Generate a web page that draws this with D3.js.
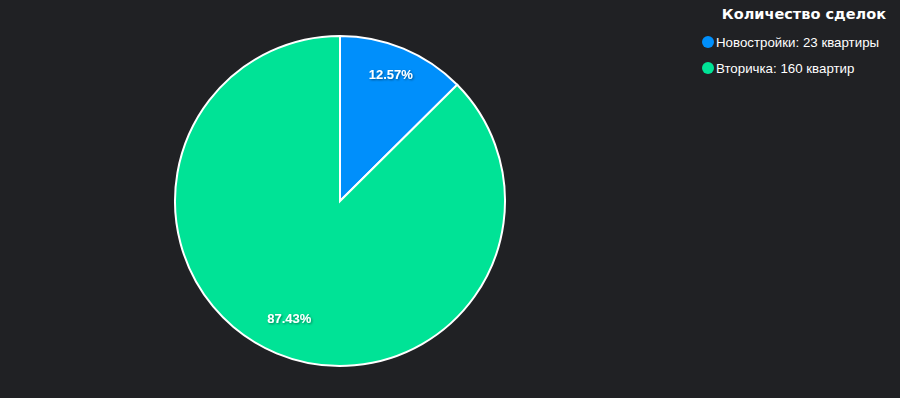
<!DOCTYPE html>
<html><head><meta charset="utf-8">
<script src="https://cdn.jsdelivr.net/npm/d3@7"></script>
<style>
html,body{margin:0;padding:0;background:#202124;}
svg{display:block;font-family:"Liberation Sans",Arial,Helvetica,sans-serif;}
</style></head><body>
<svg id="chart" width="900" height="398"></svg>
<script>
const categories = ["Новостройки", "Вторичка"];
const values = [23, 160];
const units = ["квартиры", "квартир"];
const colors = ["#008FFB", "#00E396"];
const legendTitle = "Количество сделок";

const svg = d3.select("#chart");
svg.append("rect").attr("width",900).attr("height",398).attr("fill","#202124");
const defs = svg.append("defs");
const f = defs.append("filter").attr("id","sh").attr("x","-20%").attr("y","-50%").attr("width","140%").attr("height","200%");
f.append("feDropShadow").attr("dx",1).attr("dy",1).attr("stdDeviation",1).attr("flood-color","#000").attr("flood-opacity",0.45);

const cx = 340, cy = 201, r = 165;
const pie = d3.pie().sort(null).value(d => d);
const arcs = pie(values);
const total = d3.sum(values);
const arc = d3.arc().innerRadius(0).outerRadius(r);
const labelArc = d3.arc().innerRadius(r*0.8).outerRadius(r*0.8);
const g = svg.append("g").attr("transform",`translate(${cx},${cy})`);
g.selectAll("path").data(arcs).join("path")
  .attr("d", arc).attr("fill",(d,i)=>colors[i])
  .attr("stroke","#fff").attr("stroke-width",2);
g.selectAll("text").data(arcs).join("text")
  .attr("transform", d => `translate(${labelArc.centroid(d)})`)
  .attr("text-anchor","middle").attr("dy","0")
  .attr("fill","#fff").attr("font-size",13).attr("font-weight","bold")
  .attr("filter","url(#sh)")
  .text(d => (d.value/total*100).toFixed(2) + "%");

// legend
svg.append("text").attr("x",886).attr("y",19).attr("text-anchor","end")
  .attr("fill","#fff").attr("font-size",14.5).attr("font-weight","900")
  .attr("font-family","'DejaVu Sans',sans-serif")
  .text(legendTitle);
const lg = svg.append("g");
const items = lg.selectAll("g").data(categories).join("g")
  .attr("transform",(d,i)=>`translate(708,${42+i*26})`);
items.append("circle").attr("r",6).attr("fill",(d,i)=>colors[i]);
items.append("text").attr("x",8).attr("dy","0.35em").attr("fill","#fff")
  .attr("font-size",13.3).text((d,i)=>`${d}: ${values[i]} ${units[i]}`);
</script>
</body></html>
